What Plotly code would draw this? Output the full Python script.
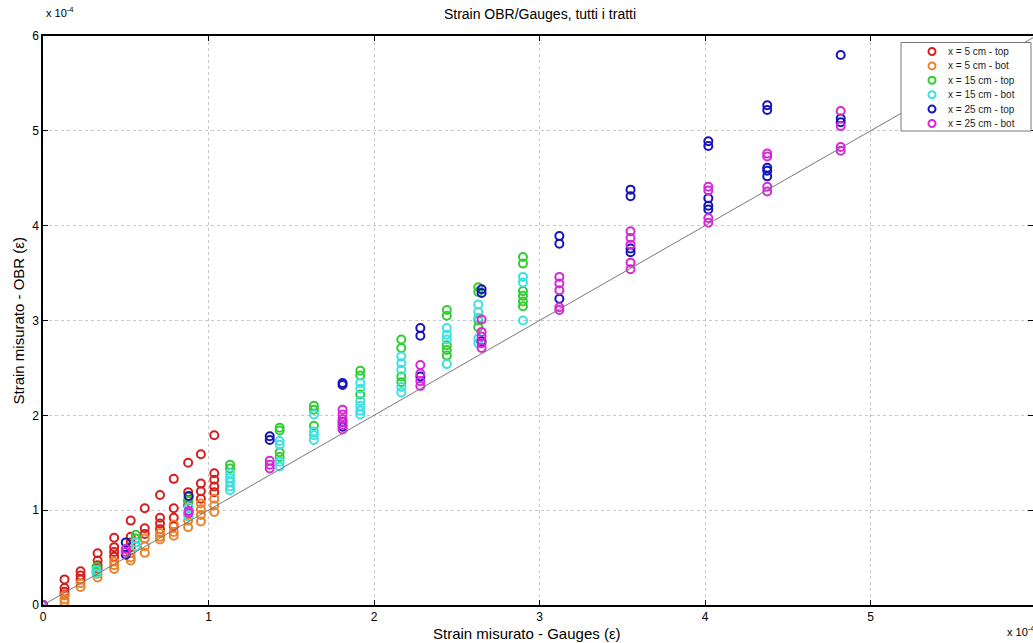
import plotly.graph_objects as go

# ---------------- data (units of 1e-4 strain) ----------------
series_names = ["x = 5 cm - top", "x = 5 cm - bot", "x = 15 cm - top",
                "x = 15 cm - bot", "x = 25 cm - top", "x = 25 cm - bot"]
series_colors = ["rgb(214,30,30)", "rgb(236,130,40)", "rgb(50,205,50)",
                 "rgb(60,225,225)", "rgb(20,20,185)", "rgb(215,40,215)"]

x5 = [0, 0.13, 0.227, 0.33, 0.43, 0.53, 0.615, 0.707, 0.79, 0.877, 0.954, 1.035]
top5 = [[0], [0.27, 0.18, 0.14, 0.11], [0.355, 0.31, 0.27], [0.545, 0.47, 0.42, 0.38],
        [0.71, 0.61, 0.56, 0.51], [0.89, 0.72, 0.66, 0.61], [1.02, 0.81, 0.75],
        [1.16, 0.92, 0.86, 0.80], [1.33, 1.02, 0.92, 0.83], [1.50, 1.19, 1.10, 1.05],
        [1.59, 1.28, 1.20, 1.12], [1.79, 1.39, 1.32, 1.25, 1.19]]
bot5 = [[0], [0.10, 0.06, 0.03], [0.23, 0.19], [0.33, 0.29], [0.46, 0.42, 0.38],
        [0.55, 0.50, 0.47], [0.70, 0.62, 0.55], [0.76, 0.72, 0.69], [0.85, 0.77, 0.73],
        [0.95, 0.89, 0.82], [1.07, 1.01, 0.95, 0.88], [1.12, 1.05, 0.98]]

x15 = [0, 0.323, 0.56, 0.88, 1.13, 1.43, 1.637, 1.917, 2.165, 2.44, 2.63, 2.90]
top15 = [[0], [0.40, 0.35], [0.74, 0.70], [1.14, 1.10], [1.48, 1.44],
         [1.87, 1.84, 1.61, 1.56], [2.10, 2.06, 1.89], [2.47, 2.42, 2.22],
         [2.80, 2.71, 2.41, 2.35], [3.11, 3.05, 2.74, 2.69, 2.63],
         [3.35, 3.30, 3.00, 2.93], [3.67, 3.60, 3.31, 3.26, 3.20, 3.15]]
bot15 = [[0], [0.37, 0.33], [0.66, 0.62], [1.03, 0.98, 0.93],
         [1.39, 1.34, 1.30, 1.25, 1.21], [1.73, 1.69, 1.51, 1.46],
         [2.01, 1.83, 1.79, 1.74], [2.34, 2.28, 2.15, 2.10, 2.05, 2.01],
         [2.62, 2.55, 2.48, 2.30, 2.24], [2.92, 2.85, 2.80, 2.54],
         [3.17, 3.09, 3.03, 2.81, 2.76], [3.46, 3.40, 3.00]]

x25 = [0, 0.50, 0.88, 1.37, 1.81, 2.28, 2.65, 3.12, 3.55, 4.02, 4.376, 4.82]
top25 = [[0], [0.66, 0.53], [1.15], [1.78, 1.74], [2.34, 2.32, 1.93, 1.88],
         [2.92, 2.84, 2.41], [3.33, 3.29, 2.78], [3.89, 3.81, 3.23],
         [4.38, 4.31, 3.76, 3.72], [4.89, 4.84, 4.29, 4.21, 4.17],
         [5.27, 5.22, 4.61, 4.58, 4.52], [5.80, 5.13, 5.09]]
bot25 = [[0], [0.59, 0.56], [0.97, 0.99], [1.52, 1.48, 1.44],
         [2.06, 2.01, 1.96, 1.90, 1.85], [2.53, 2.44, 2.36, 2.31],
         [3.01, 2.88, 2.83, 2.76, 2.71], [3.46, 3.39, 3.32, 3.14, 3.11],
         [3.94, 3.87, 3.80, 3.61, 3.54], [4.41, 4.37, 4.08, 4.03],
         [4.76, 4.73, 4.41, 4.36], [5.21, 5.05, 4.83, 4.79]]

ref_line = [0, 6]
x_ticks = [0, 1, 2, 3, 4, 5, 6]
y_ticks = [0, 1, 2, 3, 4, 5, 6]

series_cols = [x5, x5, x15, x15, x25, x25]
series_vals = [top5, bot5, top15, bot15, top25, bot25]


def flatten(cols, vals):
    xs, ys = [], []
    for c, vs in zip(cols, vals):
        for v in vs:
            xs.append(c)
            ys.append(v)
    return xs, ys


fig = go.Figure()
for name, color, cols, vals in zip(series_names, series_colors, series_cols, series_vals):
    xs, ys = flatten(cols, vals)
    fig.add_trace(go.Scatter(
        x=xs, y=ys, mode="markers", name=name, showlegend=False,
        marker=dict(symbol="circle-open", size=8, color=color,
                    line=dict(width=2, color=color)),
    ))

fig.add_trace(go.Scatter(x=ref_line, y=ref_line, mode="lines",
                         line=dict(color="rgb(120,120,120)", width=1),
                         showlegend=False, hoverinfo="skip"))

W, H = 1033, 643
L, R, T, B = 43, 0, 36, 38
px_per_unit = 165.5
xmax = (W - L - R) / px_per_unit
plot_w = W - L - R
plot_h = H - T - B


def px_x(p):
    return (p - L) / plot_w


def px_y(p):
    return (H - B - p) / plot_h


axis_common = dict(
    showline=True, linecolor="black", linewidth=1.5, mirror="ticks",
    ticks="inside", ticklen=5, tickwidth=1.2, tickcolor="black",
    showgrid=True, gridcolor="rgb(200,200,200)", griddash="dot", gridwidth=1,
    zeroline=False, automargin=False,
    tickfont=dict(family="Liberation Sans, Arial", size=12, color="black"),
)

fig.update_layout(
    width=W, height=H,
    margin=dict(l=L, r=R, t=T, b=B, autoexpand=False),
    paper_bgcolor="white", plot_bgcolor="white",
    font=dict(family="Liberation Sans, Arial", color="black"),
    title=dict(text="Strain OBR/Gauges, tutti i tratti", x=540 / W, xanchor="center",
               y=1 - 14 / H, yanchor="middle", font=dict(size=14), automargin=False),
    xaxis=dict(range=[0, xmax], tickvals=x_ticks, ticktext=[str(t) for t in x_ticks], **axis_common),
    yaxis=dict(range=[0, 6], tickvals=y_ticks, ticktext=[str(t) for t in y_ticks], **axis_common),
    showlegend=False,
)

# custom legend box (compact, MATLAB style)
fig.add_shape(type="rect", xref="paper", yref="paper",
              x0=px_x(901), x1=px_x(1031), y0=px_y(131), y1=px_y(42.5),
              line=dict(color="rgb(120,120,120)", width=1), fillcolor="white", layer="above")
leg_y0 = 51.5
leg_dy = 14.4
for i, (name, color) in enumerate(zip(series_names, series_colors)):
    yp = leg_y0 + i * leg_dy
    fig.add_shape(type="circle", xref="paper", yref="paper",
                  xsizemode="pixel", ysizemode="pixel",
                  xanchor=px_x(932), yanchor=px_y(yp),
                  x0=-3.5, x1=3.5, y0=-3.5, y1=3.5,
                  line=dict(color=color, width=2), fillcolor="rgba(0,0,0,0)", layer="above")
    fig.add_annotation(text=name, xref="paper", yref="paper",
                       x=px_x(946), y=px_y(yp), xanchor="left", yanchor="middle",
                       showarrow=False, font=dict(size=10, color="rgb(30,30,30)"))

fig.add_annotation(text="Strain misurato - Gauges (ε)", xref="paper", yref="paper",
                   x=px_x(527), y=px_y(633), xanchor="center", yanchor="middle",
                   showarrow=False, font=dict(size=15))
fig.add_annotation(text="Strain misurato - OBR (ε)", xref="paper", yref="paper",
                   x=px_x(18), y=0.5, xanchor="center", yanchor="middle",
                   textangle=-90, showarrow=False, font=dict(size=15))
fig.add_annotation(text="x 10<sup>-4</sup>", xref="paper", yref="paper",
                   x=px_x(44), y=px_y(12), xanchor="left", yanchor="middle",
                   showarrow=False, font=dict(size=11))
fig.add_annotation(text="x 10<sup>-4</sup>", xref="paper", yref="paper",
                   x=px_x(1005), y=px_y(631), xanchor="left", yanchor="middle",
                   showarrow=False, font=dict(size=11))

fig.write_html("out.html", config={"displayModeBar": False},
               post_script="document.body.style.margin='0';document.body.style.overflow='hidden';")
